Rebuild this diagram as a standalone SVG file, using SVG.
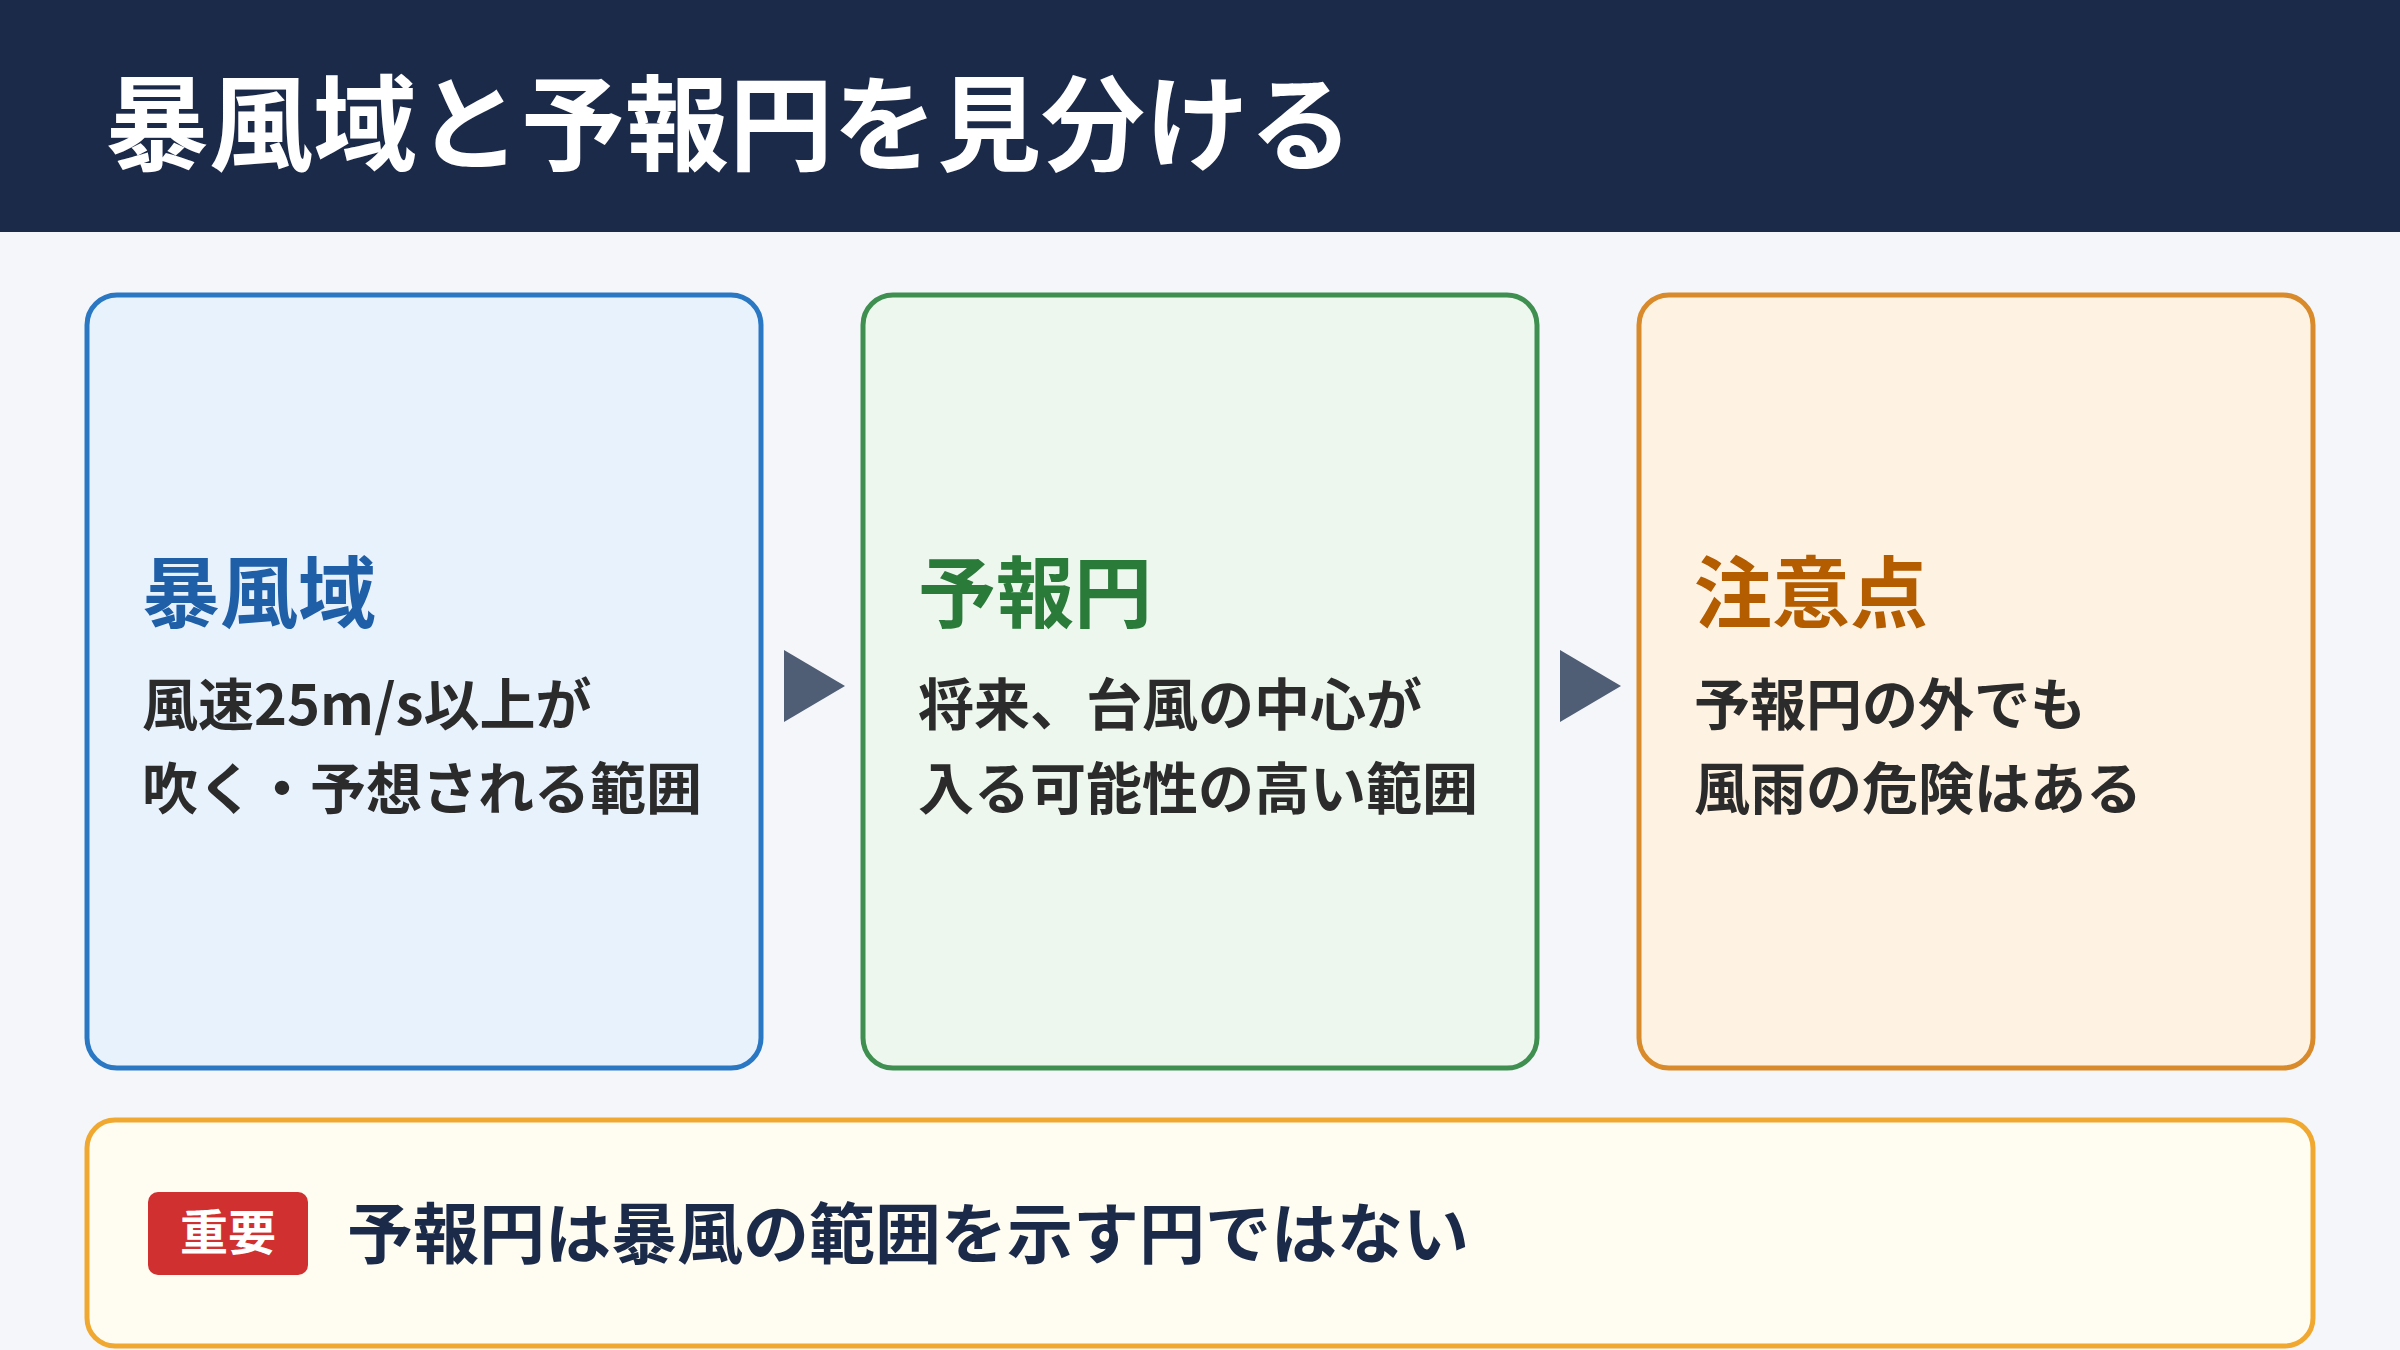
<svg xmlns="http://www.w3.org/2000/svg" width="2400" height="1350" viewBox="0 0 2400 1350">
<style>
text{font-family:"Noto Sans CJK JP","Noto Sans",sans-serif;font-weight:700}
.body{font-size:56px;fill:#2b2b2b}
.h{font-size:78px}
.box{stroke-width:5}
</style>
<rect width="2400" height="1350" fill="#f4f6fa"/>
<g id="header"><rect width="2400" height="232" fill="#1c2a4a"/>
<text x="105" y="163" font-size="104" fill="#ffffff">暴風域と予報円を見分ける</text></g>
<g id="node1"><rect class="box" x="87" y="295" width="674" height="773" rx="30" fill="#e8f2fd" stroke="#2a78c4"/>
<text class="h" x="142" y="622" fill="#1f5fa8">暴風域</text>
<text class="body" x="142" y="725">風速25m/s以上が</text>
<text class="body" x="142" y="809">吹く・予想される範囲</text></g>
<g id="node2"><rect class="box" x="863" y="295" width="674" height="773" rx="30" fill="#edf7ee" stroke="#3f8f50"/>
<text class="h" x="918" y="622" fill="#2a7a3a">予報円</text>
<text class="body" x="918" y="725">将来、台風の中心が</text>
<text class="body" x="918" y="809">入る可能性の高い範囲</text></g>
<g id="node3"><rect class="box" x="1639" y="295" width="674" height="773" rx="30" fill="#fef3e2" stroke="#d98a2b"/>
<text class="h" x="1694" y="622" fill="#b35c00">注意点</text>
<text class="body" x="1694" y="725">予報円の外でも</text>
<text class="body" x="1694" y="809">風雨の危険はある</text></g>
<g id="connectors" fill="#4f5d75">
<polygon points="784,650 845,686 784,722"/>
<polygon points="1560,650 1621,686 1560,722"/></g>
<g id="note"><rect class="box" x="87" y="1120" width="2226" height="226" rx="28" fill="#fffdf2" stroke="#f0a830"/>
<rect x="148" y="1192" width="160" height="83" rx="10" fill="#d0302f"/>
<text x="228" y="1250" font-size="48" fill="#ffffff" text-anchor="middle">重要</text>
<text x="347" y="1258" font-size="66" fill="#1c2a4a">予報円は暴風の範囲を示す円ではない</text></g>
</svg>
